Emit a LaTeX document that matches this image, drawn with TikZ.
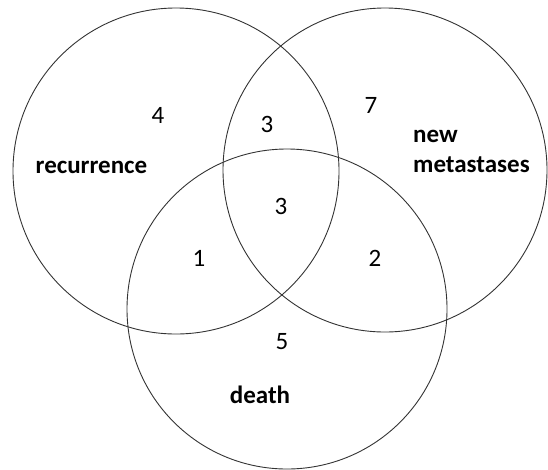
\documentclass[tikz,border=0pt]{standalone}
\usepackage{fontspec}
\setmainfont{Carlito}

\begin{document}
\begin{tikzpicture}[x=1pt, y=-1pt,
	set/.style={circle, draw=black!80, line width=0.9pt, inner sep=0pt},
	count/.style={font=\fontsize{25}{30}\selectfont, inner sep=0pt},
	setname/.style={font=\fontsize{25}{30}\selectfont\bfseries, inner sep=0pt}]
	\useasboundingbox (0,0) rectangle (548,469);

	% the three sets
	\node[set, minimum size=326pt] (recurrence) at (176,171) {};
	\node[set, minimum size=324pt] (metastases) at (385,170) {};
	\node[set, minimum size=320pt] (death) at (287,309) {};

	\node[setname, anchor=base] (recName) at (91.5,173) {recurrence};
	\node[setname, anchor=base west, align=left] (metName) at (413,172) {new\\metastases};
	\node[setname, anchor=base] (deathName) at (260,403) {death};

	% counts in each region
	\node[count] (onlyRec) at (158,115) {4};
	\node[count] (recMet) at (267,124) {3};
	\node[count] (onlyMet) at (371,105) {7};
	\node[count] (allThree) at (281,206) {3};
	\node[count] (recDeath) at (199,258) {1};
	\node[count] (metDeath) at (375,258) {2};
	\node[count] (onlyDeath) at (282,342) {5};
\end{tikzpicture}
\end{document}
